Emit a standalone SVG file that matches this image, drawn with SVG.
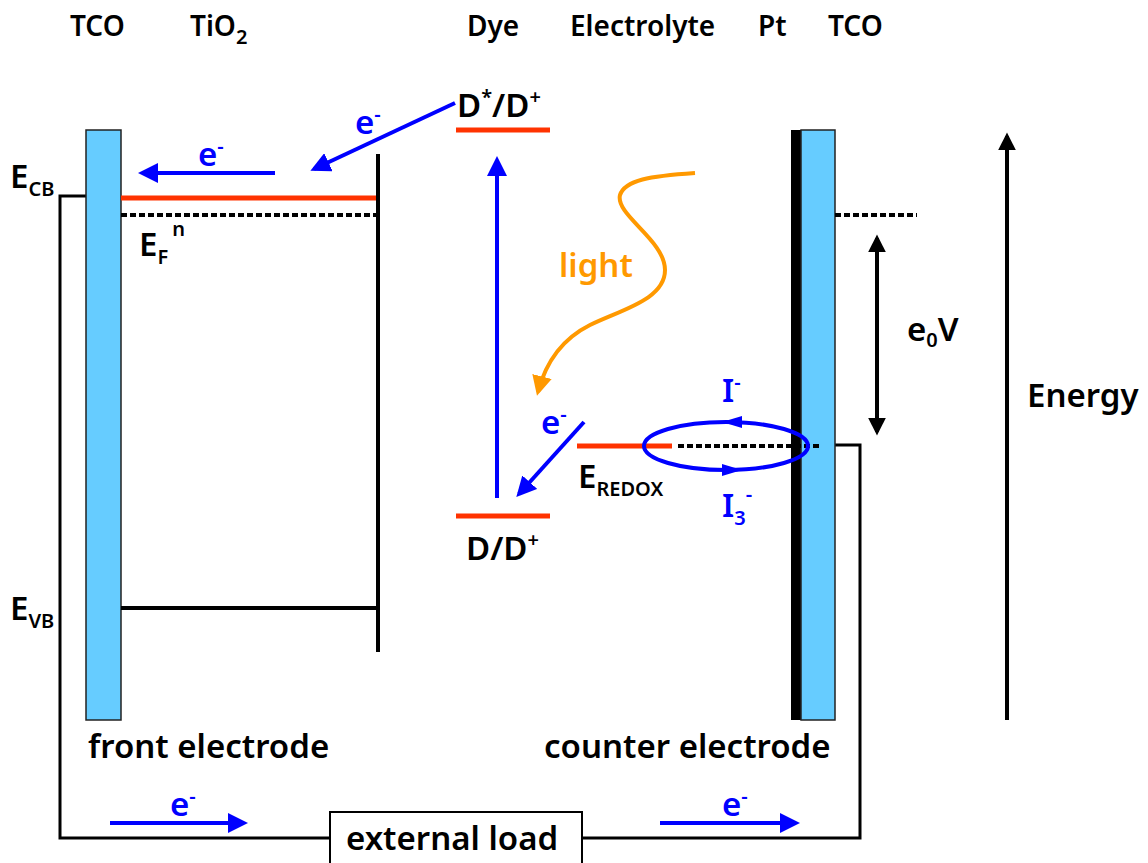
<svg xmlns="http://www.w3.org/2000/svg" width="1148" height="863" viewBox="0 0 1148 863">
<style>
.t{font-family:"Noto Sans","Open Sans",sans-serif;font-size:28px;fill:#000;font-weight:600}
.L{font-size:33px}
.s{font-size:20px}
.b{fill:#0000ff}
.o{fill:#ff9900}
.wire{stroke:#000;stroke-width:3;fill:none}
.red{stroke:#ff3300;stroke-width:5}
.dash{stroke:#000;stroke-width:4;stroke-dasharray:6 3}
.blue{stroke:#0000ff;stroke-width:4;fill:none}
.tco{fill:#66ccff;stroke:#222;stroke-width:1.5}
</style>
<defs>
<marker id="ab" viewBox="0 0 10 10" refX="8" refY="5" markerWidth="5" markerHeight="5" orient="auto-start-reverse" markerUnits="strokeWidth"><path d="M0,0 L10,5 L0,10 Z" fill="#0000ff"/></marker>
<marker id="ak" viewBox="0 0 10 10" refX="8" refY="5" markerWidth="4.5" markerHeight="4.5" orient="auto-start-reverse" markerUnits="strokeWidth"><path d="M0,0 L10,5 L0,10 Z" fill="#000"/></marker>
<marker id="ao" viewBox="0 0 10 10" refX="8" refY="5" markerWidth="5" markerHeight="5" orient="auto" markerUnits="strokeWidth"><path d="M0,0 L10,5 L0,10 Z" fill="#ff9900"/></marker>
</defs>

<g id="headers">
<text class="t" x="70" y="36">TCO</text>
<text class="t" x="190" y="36">TiO<tspan class="s" dy="8">2</tspan></text>
<text class="t" x="467" y="36">Dye</text>
<text class="t" x="570" y="36">Electrolyte</text>
<text class="t" x="758" y="36">Pt</text>
<text class="t" x="828" y="36">TCO</text>
</g>

<g id="circuit">
<polyline class="wire" points="86,196 60,196 60,838 330,838"/>
<polyline class="wire" points="582,838 860,838 860,445 835,445"/>
</g>

<g id="front-electrode">
<rect class="tco" x="86" y="130" width="35" height="590"/>
<text class="t L" x="88" y="758">front electrode</text>
</g>

<g id="tio2">
<line class="red" x1="121" y1="198" x2="377" y2="198"/>
<line class="dash" x1="121" y1="215" x2="377" y2="215"/>
<line x1="121" y1="608" x2="378" y2="608" stroke="#000" stroke-width="4"/>
<line x1="378" y1="154" x2="378" y2="652" stroke="#000" stroke-width="4"/>
<text class="t L" x="10" y="188">E<tspan class="s" dy="8">CB</tspan></text>
<text class="t L" x="139" y="256">E<tspan class="s" dy="8">F</tspan><tspan class="s" dy="-28" dx="4">n</tspan></text>
<text class="t L" x="10" y="620">E<tspan class="s" dy="8">VB</tspan></text>
</g>

<g id="dye">
<line class="red" x1="456" y1="130" x2="550" y2="130"/>
<line class="red" x1="456" y1="516" x2="550" y2="516"/>
<text class="t L" x="457" y="117">D<tspan class="s" dy="-13">*</tspan><tspan dy="13">/D</tspan><tspan class="s" dy="-13">+</tspan></text>
<text class="t L" x="466" y="560">D/D<tspan class="s" dy="-13">+</tspan></text>
</g>

<g id="counter-electrode">
<rect x="791" y="130" width="10" height="590" fill="#000"/>
<rect class="tco" x="801" y="130" width="34" height="590"/>
<line class="dash" x1="835" y1="215" x2="917" y2="215"/>
<text class="t L" x="544" y="758">counter electrode</text>
</g>

<g id="redox">
<line class="red" x1="577" y1="446" x2="672" y2="446"/>
<line class="dash" x1="678" y1="446" x2="822" y2="446"/>
<text class="t L" x="578" y="488">E<tspan class="s" dy="8">REDOX</tspan></text>
<ellipse class="blue" cx="726" cy="446" rx="82" ry="24"/>
<path d="M742,416 L722,422 L742,428 Z" fill="#0000ff"/>
<path d="M722,464 L742,470 L722,476 Z" fill="#0000ff"/>
<text class="t L b" x="722" y="402">I<tspan class="s" dy="-13">-</tspan></text>
<text class="t L b" x="722" y="517">I<tspan class="s" dy="8">3</tspan><tspan class="s" dy="-24">-</tspan></text>
</g>

<g id="load">
<rect x="330" y="812" width="252" height="60" fill="#fff" stroke="#000" stroke-width="2"/>
<text class="t L" x="346" y="850">external load</text>
</g>

<g id="connectors">
<line class="blue" x1="275" y1="173" x2="142" y2="173" marker-end="url(#ab)"/>
<line class="blue" x1="455" y1="103" x2="314" y2="169" marker-end="url(#ab)"/>
<line class="blue" x1="497" y1="498" x2="497" y2="160" marker-end="url(#ab)"/>
<line class="blue" x1="584" y1="422" x2="519" y2="494" marker-end="url(#ab)"/>
<line class="blue" x1="110" y1="823" x2="244" y2="823" marker-end="url(#ab)"/>
<line class="blue" x1="660" y1="823" x2="796" y2="823" marker-end="url(#ab)"/>
<path d="M695,173 C650,176 625,180 620,195 C615,215 665,240 665,270 C665,300 620,310 590,325 C560,340 545,365 538,392" stroke="#ff9900" stroke-width="4" fill="none" marker-end="url(#ao)"/>
<line x1="877" y1="238" x2="877" y2="432" stroke="#000" stroke-width="4" marker-start="url(#ak)" marker-end="url(#ak)"/>
<line x1="1007" y1="720" x2="1007" y2="136" stroke="#000" stroke-width="4" marker-end="url(#ak)"/>
</g>

<g id="labels">
<text class="t L b" x="198" y="166">e<tspan class="s" dy="-13">-</tspan></text>
<text class="t L b" x="355" y="134">e<tspan class="s" dy="-13">-</tspan></text>
<text class="t L b" x="541" y="434">e<tspan class="s" dy="-13">-</tspan></text>
<text class="t L b" x="170" y="816">e<tspan class="s" dy="-13">-</tspan></text>
<text class="t L b" x="722" y="816">e<tspan class="s" dy="-13">-</tspan></text>
<text class="t L o" x="559" y="277">light</text>
<text class="t L" x="907" y="341">e<tspan class="s" dy="6">0</tspan><tspan dy="-6">V</tspan></text>
<text class="t L" x="1027" y="407">Energy</text>
</g>
</svg>
